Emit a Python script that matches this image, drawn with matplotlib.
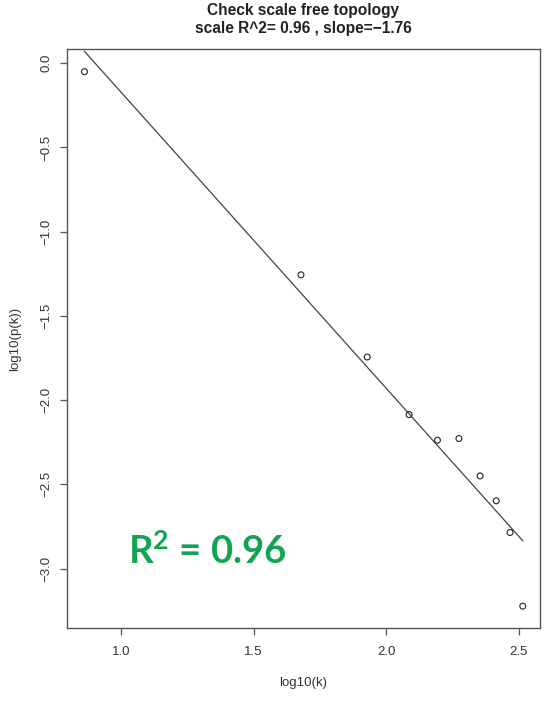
import numpy as np
import matplotlib
matplotlib.use("Agg")
import matplotlib.pyplot as plt

# values
log10_k = [0.862, 1.679, 1.929, 2.087, 2.194, 2.275, 2.355, 2.416, 2.468, 2.516]
log10_pk = [-0.050, -1.256, -1.744, -2.086, -2.238, -2.228, -2.450, -2.598, -2.786, -3.223]
title_lines = ["Check scale free topology", "scale R^2= 0.96 , slope=\u22121.76"]
x_ticks = [1.0, 1.5, 2.0, 2.5]
y_ticks = [0.0, -0.5, -1.0, -1.5, -2.0, -2.5, -3.0]

plt.rcParams['font.family'] = ['Liberation Sans', 'DejaVu Sans']
plt.rcParams['mathtext.fontset'] = 'custom'
plt.rcParams['mathtext.rm'] = 'Lato:bold'
plt.rcParams['mathtext.bf'] = 'Lato:bold'

fig = plt.figure(figsize=(5.5, 7.03), dpi=100)
ax = fig.add_axes([0.1213, 0.1067, 0.8605, 0.8232])

# linear fit, drawn from first to last point like lines(x, predict(lm))
x = np.array(log10_k)
y = np.array(log10_pk)
slope, intercept = np.polyfit(x, y, 1)
ax.plot(x, intercept + slope * x, color='#444444', lw=0.9)
ax.scatter(x, y, s=18, facecolors='none', edgecolors='#222222', linewidths=0.8, zorder=3)

ax.set_xlim(0.795, 2.581)
ax.set_ylim(-3.353, 0.083)
ax.set_xticks(x_ticks)
ax.set_yticks(y_ticks)
ax.set_xticklabels([f"{v:.1f}" for v in x_ticks])
ax.set_yticklabels([f"{v:.1f}".replace('-', '\u2212') for v in y_ticks], rotation=90, va='center')
ax.tick_params(length=5, width=0.9, colors='#555555', labelcolor='#333333', labelsize=9.5)
ax.tick_params(axis='x', pad=8)
ax.tick_params(axis='y', pad=5)
for s in ax.spines.values():
    s.set_color('#555555')
    s.set_linewidth(1.0)

ax.set_xlabel("log10(k)", fontsize=9.5, color='#333333', labelpad=14)
ax.set_ylabel("log10(p(k))", fontsize=9.5, color='#333333', labelpad=14)

fig.text(0.551, 1 - 11 / 703, title_lines[0], ha='center', va='center', fontsize=11.2, fontweight='bold', color='#222222')
fig.text(0.551, 1 - 28.5 / 703, title_lines[1], ha='center', va='center', fontsize=11.2, fontweight='bold', color='#222222')

ax.text(1.026, -2.976, r"$\mathbf{R^2}$ = 0.96", fontsize=27.5, color='#14a352',
        family=['Lato', 'DejaVu Sans'], fontweight='bold', va='baseline', ha='left')

fig.savefig("out.png", dpi=100)
